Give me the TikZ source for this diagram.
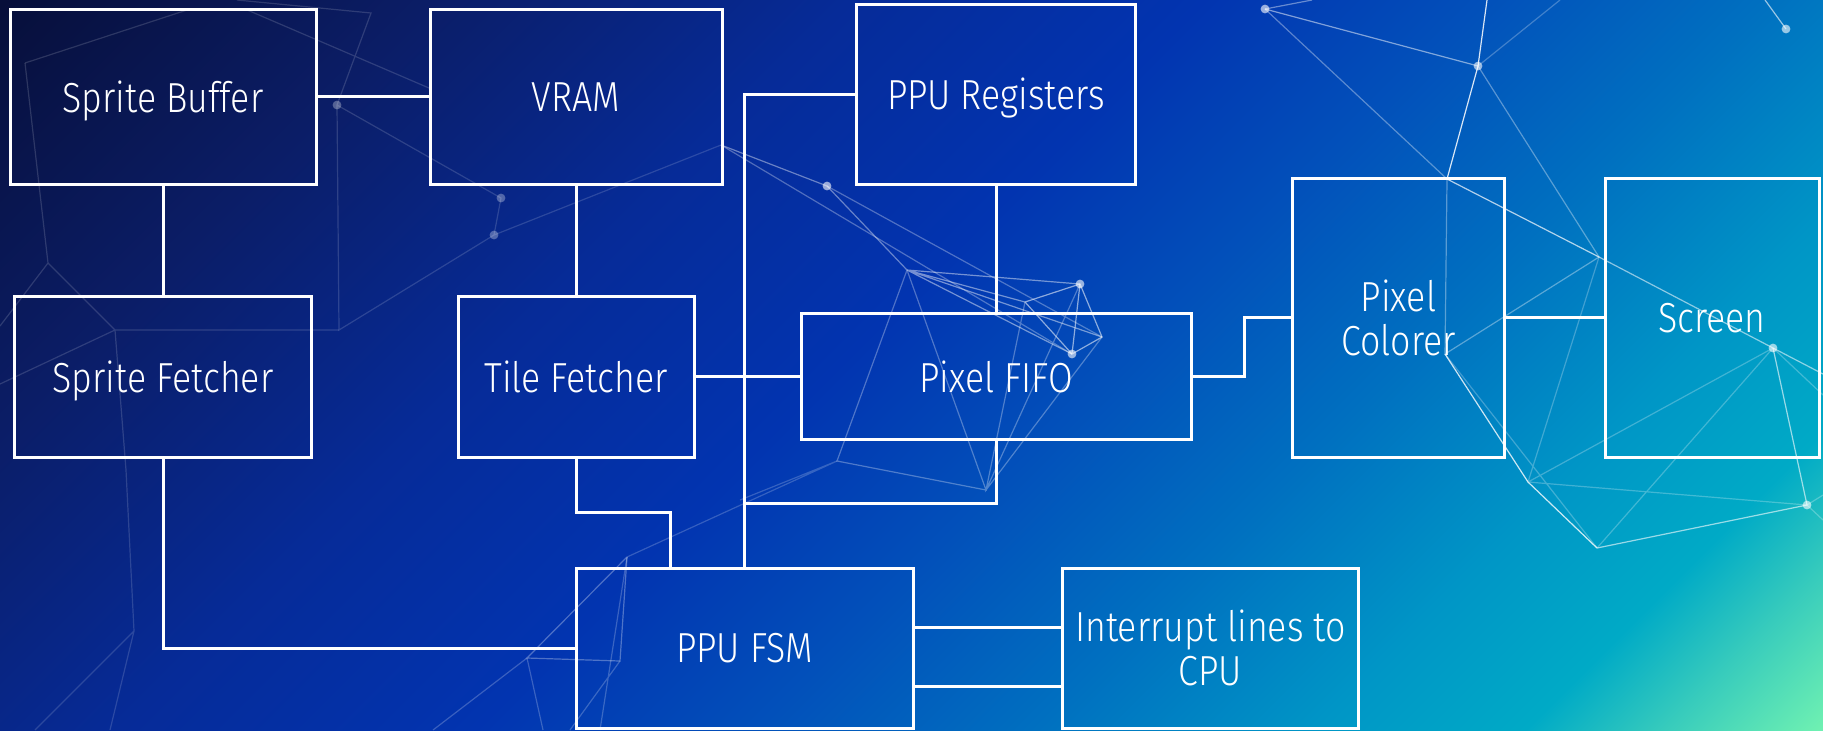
\documentclass[tikz,border=0pt]{standalone}
\usepackage{fontspec}
\setmainfont{Fira Sans}[UprightFont=* Light, FakeStretch=0.85]

% colours of the backdrop, top left to bottom right
\definecolor{bgA}{HTML}{070F3A}
\definecolor{bgB}{HTML}{0B1D66}
\definecolor{bgC}{HTML}{062B98}
\definecolor{bgD}{HTML}{0234B0}
\definecolor{bgE}{HTML}{0250BA}
\definecolor{bgF}{HTML}{0070C0}
\definecolor{bgG}{HTML}{0096C6}
\definecolor{bgH}{HTML}{00AAC6}
\definecolor{bgI}{HTML}{38CCBC}
\definecolor{bgJ}{HTML}{6EF0B2}
\pgfdeclarehorizontalshading{bgshade}{100bp}{color(0bp)=(bgA); color(27.4bp)=(bgA);
    color(34.9bp)=(bgB); color(42.4bp)=(bgC); color(48.7bp)=(bgD); color(53.7bp)=(bgE);
    color(58.7bp)=(bgF); color(63.7bp)=(bgG); color(67.4bp)=(bgH); color(69.9bp)=(bgI);
    color(72.6bp)=(bgJ); color(100bp)=(bgJ)}

\begin{document}
\begin{tikzpicture}[
    % GLOBAL CFG
    x=0.5pt, y=-0.5pt,
    font=\fontsize{21}{22}\selectfont,
    % Styles
    unit/.style={% For the blocks
        rectangle,
        draw=white,
        line width=1.5pt,
        text=white,
        align=center,
        },
    one/.style={% Single line blocks: no room for descenders
        text depth=0pt,
        },
    Wire/.style={% For the lines between blocks
        draw=white,
        line width=1.5pt,
        },
    plex/.style={% For the network in the back
        white,
        line width=0.6pt,
        opacity=#1,
        },
    plex/.default=0.3,
    knot/.style={% Dots of the network
        white,
        opacity=0.6,
        },
    ]

% Backdrop
\begin{scope}
    \clip (0,0) rectangle (1823,730);
    \shade [shading=bgshade, shading angle=-45] (-88.5,-635) rectangle (1911.5,1365);
\end{scope}
\useasboundingbox (0,0) rectangle (1823,730);

% Network in the back: right
\draw [plex=0.85] (1487,0) -- (1478,66) -- (1447,179);
\draw [plex=0.7] (1447,179) -- (1599,257);
\draw [plex=0.55] (1599,257) -- (1773,348) -- (1823,374);
\draw [plex=0.8] (1445,354) -- (1528,482) -- (1597,548);
\draw [plex=0.6] (1597,548) -- (1807,505) -- (1773,348);
\draw [plex=0.5] (1265,9) -- (1478,66);
\draw [plex=0.35] (1265,9) -- (1447,179) -- (1445,354) -- (1599,257) -- (1478,66);
\draw [plex=0.6] (1786,29) -- (1765,0);
\draw [plex=0.4] (1265,9) -- (1312,0);
\draw [plex=0.25] (1599,257) -- (1528,482) -- (1807,505) (1773,348) -- (1597,548)
    (1445,354) -- (1597,548) (1773,348) -- (1528,482) (1478,66) -- (1560,0)
    (1807,505) -- (1823,495) (1807,505) -- (1823,520) (1773,348) -- (1823,395);
\foreach \p in {(1265,9), (1478,66), (1786,29), (1773,348), (1807,505)}
    \fill [knot] \p circle (2.2pt);

% Network in the back: middle
\draw [plex=0.4] (721,145) -- (827,186) -- (907,270);
\draw [plex=0.45] (907,270) -- (1080,284) (907,270) -- (1025,302)
    (907,270) -- (1102,337) (907,270) -- (1072,354);
\draw [plex=0.55] (1025,302) -- (1080,284) -- (1102,337) -- (1072,354) -- (1025,302)
    (1080,284) -- (1072,354);
\draw [plex=0.3] (907,270) -- (837,461) -- (986,490) -- (907,270) (1025,302) -- (986,490)
    -- (1102,337) (1080,284) -- (986,490) (827,186) -- (1102,337) (721,145) -- (1072,354);
\draw [plex=0.2] (837,461) -- (740,500) (837,461) -- (627,557);
\foreach \p in {(827,186), (1080,284), (1072,354)}
    \fill [knot] \p circle (2.2pt);

% Network in the back: bottom
\draw [plex=0.3] (627,557) -- (527,658) -- (620,661) -- (627,557);
\draw [plex=0.22] (527,658) -- (433,730) (527,658) -- (543,730) (620,661) -- (570,730)
    (627,557) -- (600,730);

% Network in the back: left
\draw [plex=0.15] (25,63) -- (190,9) (237,0) -- (371,13) -- (337,105) -- (339,330)
    -- (494,235) -- (721,145) (337,105) -- (501,198) -- (494,235) (245,9) -- (429,88);
\draw [plex=0.15] (25,63) -- (48,263) -- (115,330) -- (126,470) -- (134,631) -- (110,730)
    (48,263) -- (0,326) (115,330) -- (339,330) (134,631) -- (35,730) (0,384) -- (115,330);
\foreach \p in {(337,105), (501,198), (494,235)}
    \fill [knot, opacity=0.3] \p circle (2.2pt);

% Draw the blocks
\node [unit, one, minimum width=153pt, minimum height=87.5pt] (sbuf) at (163,96.7) {Sprite Buffer};
\node [unit, one, minimum width=146pt, minimum height=87.5pt] (vram) at (576,96.7) {VRAM};
\node [unit, one, minimum width=139.5pt, minimum height=90pt] (preg) at (996,94) {PPU Registers};
\node [unit, one, minimum width=148.5pt, minimum height=80.5pt] (sfetch) at (163,376.5) {Sprite Fetcher};
\node [unit, one, minimum width=118pt, minimum height=80.5pt] (tfetch) at (576,376.5) {Tile Fetcher};
\node [unit, one, minimum width=195pt, minimum height=63pt] (fifo) at (996,376.5) {Pixel FIFO};
\node [unit, minimum width=106pt, minimum height=139.5pt] (pcol) at (1398.5,317.5) {Pixel\\Colorer};
\node [unit, one, minimum width=107pt, minimum height=139.5pt] (screen) at (1712,317.5) {Screen};
\node [unit, one, minimum width=168.5pt, minimum height=80pt] (fsm) at (744.5,648) {PPU FSM};
\node [unit, minimum width=148pt, minimum height=80pt] (irq) at (1210.5,648) {Interrupt lines to\\CPU};

% Connect all
\coordinate (fifojoin) at (745,503);
\draw [Wire] (sbuf) -- (vram);
\draw [Wire] (sbuf) -- (sfetch);
\draw [Wire] (vram) -- (tfetch);
\draw [Wire] (preg) -- (fifo);
\draw [Wire] (tfetch) -- (fifo);
\draw [Wire] (preg.west) -| (fsm.north);
\draw [Wire] (fifo.south) |- (fifojoin);
\draw [Wire] (tfetch.south) -- ++(0,54) -| ([shift={(95.5,0)}]fsm.north west);
\draw [Wire] (sfetch.south) |- (fsm.west);
\draw [Wire] (fifo.east) -- ++(52,0) |- (pcol.west);
\draw [Wire] (pcol) -- (screen);
\draw [Wire] ([shift={(0,-20.7)}]fsm.east) -- ([shift={(0,-20.7)}]irq.west);
\draw [Wire] ([shift={(0,38.7)}]fsm.east) -- ([shift={(0,38.7)}]irq.west);

\end{tikzpicture}
\end{document}
